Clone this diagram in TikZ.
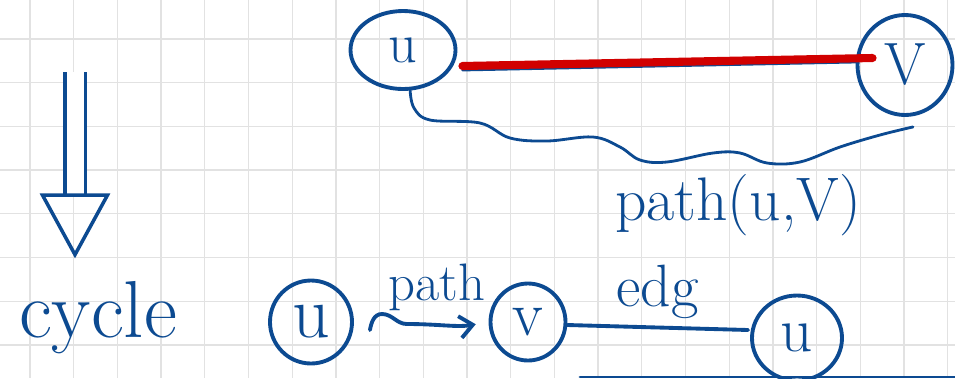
\documentclass[tikz,border=0pt]{standalone}
\usepackage{fontspec}
\usepackage{tikz}
\usetikzlibrary{arrows.meta,shapes.geometric,positioning,calc}
\definecolor{skInk}{HTML}{0C4A91}
\definecolor{skRed}{HTML}{D10000}
\definecolor{skGrid}{HTML}{E2E2E2}
\tikzset{
  skGridline/.style={draw=skGrid,line width=0.7pt},
  skVertex/.style={draw=skInk,ellipse,line width=2.2pt,text=skInk,inner sep=0pt},
  skInkLine/.style={draw=skInk,line width=2.2pt,line cap=round},
  skHand/.style={text=skInk,inner sep=0pt}
}
\begin{document}
\begin{tikzpicture}[x=0.2mm,y=-0.2mm,
  vertex/.style={skVertex},
  hand/.style={skHand},
  inkline/.style={skInkLine},
  inkthin/.style={skInkLine,line width=1.6pt},
  inkarrow/.style={skInkLine,-{Straight Barb[length=2.6mm,width=4.4mm]}},
  redline/.style={draw=skRed,line width=4.6pt,line cap=round},
  dblarrow/.style={draw=skInk,double=white,double distance=3.4mm,line width=2pt,
    -{Triangle[open,length=13mm,width=14mm]}}
]
\useasboundingbox (0,0) rectangle (955,378);
% grid paper
\foreach \gx in {0,...,21}
  \draw[skGridline] ({30+43.7*\gx},0) -- ({30+43.7*\gx},378);
\foreach \gy in {0,...,7}
  \draw[skGridline] (0,{39+43.7*\gy}) -- (955,{39+43.7*\gy});
% top part
\node[vertex,minimum width=2.1cm,minimum height=1.56cm,font=\fontsize{32}{32}\selectfont] (uTop) at (403,50) {u};
\node[vertex,minimum width=1.9cm,minimum height=2.0cm,font=\fontsize{34}{34}\selectfont] (vTop) at (905,65) {V};
\draw[inkthin] ([shift={(5,20)}]uTop.east) -- ([shift={(0,-3)}]vTop.west);
\draw[redline] ([shift={(5,16)}]uTop.east) -- ([shift={(17,-7)}]vTop.west);
\draw[inkthin] plot[smooth,tension=0.6] coordinates {(uTop.-80) (414,108) (430,120)
  (480,123) (510,138) (547,141) (593,137) (620,147) (640,160) (667,162) (713,153)
  (740,153) (767,163) (800,162) (840,147) (880,135) ([shift={(8,10)}]vTop.south)};
\node[hand,font=\fontsize{35}{35}\selectfont] (pathUV) at (738,205) {path(u,V)};
% left part
\node[hand,font=\fontsize{46}{46}\selectfont] (cycle) at (98,318) {cycle};
\coordinate (arrTop) at (75,72);
\draw[dblarrow,shorten >=4.6mm] (arrTop) -- (arrTop |- cycle.north);
% bottom part
\node[vertex,minimum width=1.64cm,minimum height=1.66cm,font=\fontsize{42}{42}\selectfont] (uLeft) at (311,322) {u};
\node[vertex,minimum width=1.5cm,minimum height=1.54cm,font=\fontsize{36}{36}\selectfont] (vMid) at (528,322) {v};
\node[vertex,minimum width=1.8cm,minimum height=1.7cm,font=\fontsize{36}{36}\selectfont] (uRight) at (797,338) {u};
\draw[inkarrow,shorten >=2.6mm] (uLeft.east) ++(16,8) to[out=80,in=180] ++(12,-16)
  to[out=0,in=180] ++(25,10) to[out=0,in=190] (vMid.west);
\node[hand,font=\fontsize{30}{30}\selectfont] (pathLbl) at (437,287) {path};
\draw[inkline] ([shift={(0,3)}]vMid.east) -- node[hand,above=4pt,font=\fontsize{34}{34}\selectfont] {edg} ([shift={(-2,-8)}]uRight.west);
\draw[inkthin] (580,377) -- (955,377);
\end{tikzpicture}
\end{document}
